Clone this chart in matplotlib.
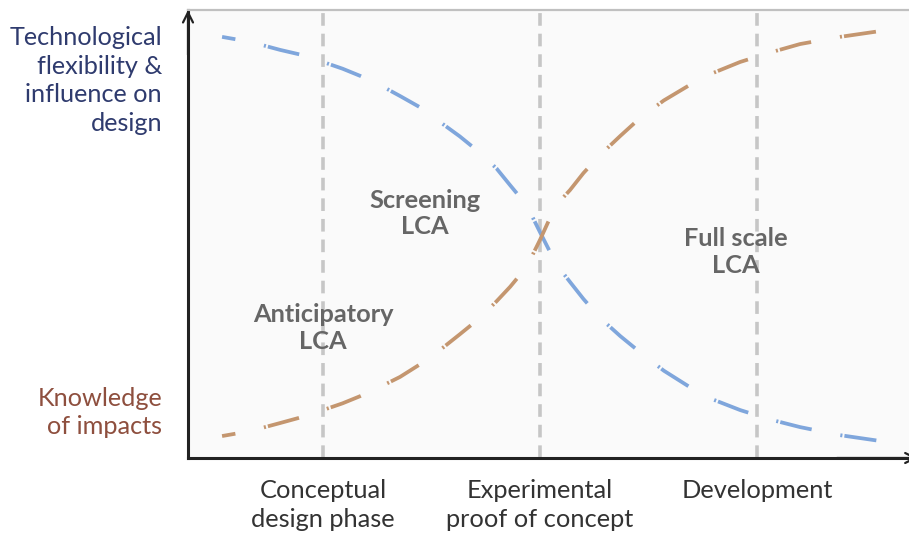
import matplotlib
matplotlib.use("Agg")
import matplotlib.pyplot as plt

plt.rcParams['font.family'] = ['Lato', 'DejaVu Sans']

# ---- data (x in phase units, y in % of axis height) ----
phase_labels = ["Conceptual\ndesign phase", "Experimental\nproof of concept", "Development"]
phase_pos = [1, 2, 3]

flex_x = [0.535, 0.664, 0.802, 0.90, 1.0, 1.09, 1.171, 1.26, 1.355, 1.45, 1.539,
          1.63, 1.724, 1.80, 1.862, 1.915, 1.954, 2.0, 2.046, 2.085, 2.138,
          2.20, 2.276, 2.37, 2.461, 2.57, 2.691, 2.80, 2.922, 3.06, 3.198,
          3.382, 3.567]
flex_y = [94.0, 92.9, 91.1, 90.0, 88.4, 86.9, 85.3, 83.3, 80.8, 78.2, 75.0,
          71.8, 68.1, 64.6, 60.9, 57.8, 54.9, 50.4, 46.0, 42.6, 39.3,
          35.5, 31.3, 27.2, 23.6, 19.5, 15.8, 13.0, 10.7, 8.6, 6.9,
          5.1, 3.8]

know_x = flex_x
know_y = [4.9, 6.0, 7.8, 9.1, 10.7, 12.2, 13.8, 15.8, 18.1, 21.0, 24.1,
          27.6, 31.3, 35.0, 38.2, 41.3, 44.2, 48.7, 53.6, 57.0, 59.8,
          63.6, 67.6, 71.9, 75.9, 79.8, 83.3, 86.0, 88.4, 90.5, 92.4,
          94.0, 95.3]

lca_labels = ["Anticipatory\nLCA", "Screening\nLCA", "Full scale\nLCA"]
lca_x = [1.0, 1.47, 2.90]
lca_y = [29.0, 54.5, 46.0]

# ---- figure ----
fig = plt.figure(figsize=(9.09, 5.34), dpi=100)
ax = fig.add_axes([188/909, 76/534, 721/909, 448/534])
ax.set_facecolor('#fafafa')
ax.set_xlim(0.378, 3.70)
ax.set_ylim(0, 100)

for p in phase_pos:
    ax.axvline(p, color='#c6c6c6', lw=2.6, dashes=(3.5, 2.2), zorder=1)

curve_ls = (5.0, (8.6, 7.8, 0.55, 0.55))
ax.plot(flex_x, flex_y, color='#7fa6dc', lw=2.7, solid_capstyle='butt',
        linestyle=curve_ls, zorder=3)
ax.plot(know_x, know_y, color='#c4966f', lw=2.7, solid_capstyle='butt',
        linestyle=curve_ls, zorder=3)

for t, x, y in zip(lca_labels, lca_x, lca_y):
    ax.text(x, y, t, ha='center', va='center', fontsize=18.3, fontweight='bold',
            color='#666666', linespacing=1.17, zorder=4)

# spines
ax.spines['right'].set_visible(False)
ax.spines['top'].set_color('#c0c0c0')
ax.spines['top'].set_linewidth(1.6)
ax.spines['left'].set_color('#222222')
ax.spines['left'].set_linewidth(2.2)
ax.spines['bottom'].set_color('#222222')
ax.spines['bottom'].set_linewidth(2.2)

ax.annotate('', xy=(0, 1.0), xycoords='axes fraction', xytext=(0, 0.9),
            arrowprops=dict(arrowstyle='->', color='#222222', lw=1.6,
                            mutation_scale=18, shrinkA=0, shrinkB=0),
            annotation_clip=False)
ax.annotate('', xy=(1.012, 0), xycoords='axes fraction', xytext=(0.9, 0),
            arrowprops=dict(arrowstyle='->', color='#222222', lw=1.6,
                            mutation_scale=18, shrinkA=0, shrinkB=0),
            annotation_clip=False)

ax.set_xticks(phase_pos)
ax.set_xticklabels(phase_labels, fontsize=18.3, color='#333333', linespacing=1.31)
ax.tick_params(axis='x', length=0, pad=15)
ax.set_yticks([])

fig.text(162/909, 1 - 80.5/534, "Technological\nflexibility &\ninfluence on\ndesign",
         ha='right', va='center', fontsize=18.2, color='#2f3b6e', linespacing=1.31)
fig.text(162/909, 1 - 412.5/534, "Knowledge\nof impacts",
         ha='right', va='center', fontsize=18.2, color='#8e4f3e', linespacing=1.31)

fig.savefig('out.png', dpi=100)
